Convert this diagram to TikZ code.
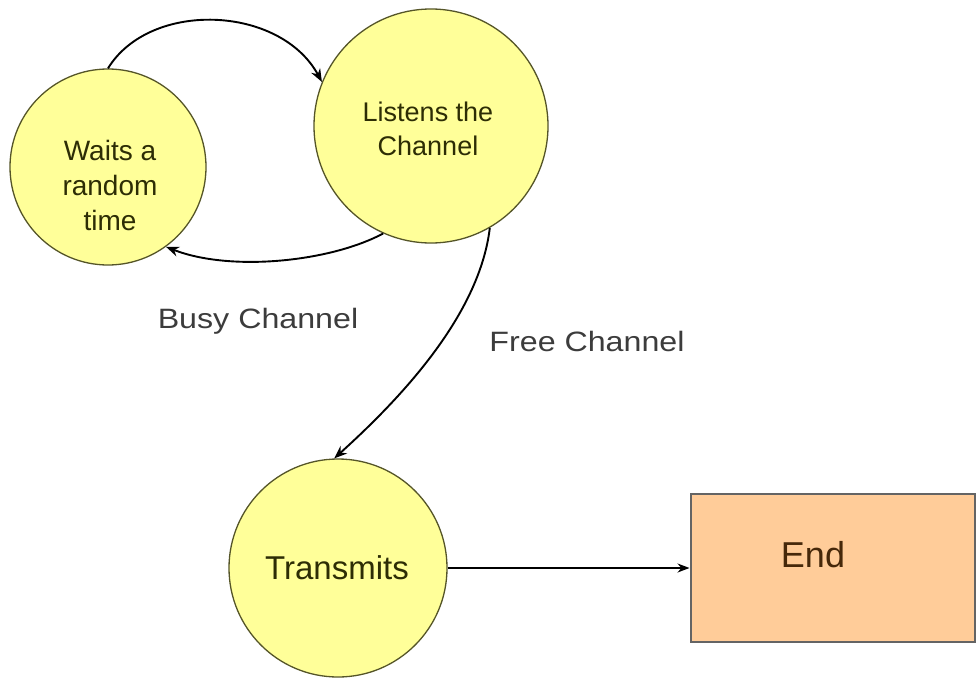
\documentclass[tikz,border=0pt]{standalone}
\usepackage{fontspec}
\setmainfont{Liberation Sans}
\usetikzlibrary{arrows.meta}
\definecolor{stateyellow}{RGB}{255,255,153}
\definecolor{stateedge}{RGB}{85,85,40}
\definecolor{statetextcol}{RGB}{45,45,5}
\definecolor{endfill}{RGB}{255,204,153}
\definecolor{endedge}{RGB}{100,100,100}
\definecolor{endtextcol}{RGB}{70,40,10}
\definecolor{labelgrey}{RGB}{60,60,60}
\tikzset{
  statecircle/.style={circle, draw=stateedge, line width=1.3pt, fill=stateyellow, inner sep=0pt},
  statetext/.style={text=statetextcol, align=center, font=\fontsize{27}{34}\selectfont},
  endbox/.style={rectangle, draw=endedge, line width=2pt, fill=endfill, inner sep=0pt,
    minimum width=284pt, minimum height=148pt},
  edgelabel/.style={text=labelgrey, font=\fontsize{28}{30}\selectfont, xscale=1.15, transform shape},
  flow/.style={line width=1.9pt, -{Stealth[length=13pt, width=10pt]}},
  flowthin/.style={line width=1.4pt, -{Stealth[length=12pt, width=9pt]}}
}
\begin{document}
\begin{tikzpicture}[x=1pt, y=-1pt]
  \useasboundingbox (0,0) rectangle (976,677);

  % states
  \node[statecircle, minimum size=196pt] (waits) at (108,167) {};
  \node[statetext, font=\fontsize{28}{35}\selectfont] (waitstext) at (110,185) {Waits a\\random\\time};

  \node[statecircle, minimum size=234pt] (listens) at (431,126) {};
  \node[statetext] (listenstext) at (428,129) {Listens the\\Channel};

  \node[statecircle, minimum size=218pt] (transmits) at (338,568) {};
  \node[statetext, font=\fontsize{33}{38}\selectfont] (transmitstext) at (337,568) {Transmits};

  \node[endbox] (end) at (832.5,568) {};
  \node[text=endtextcol, font=\fontsize{36}{40}\selectfont] (endtext) at (813,555) {End};

  % transitions
  \draw[flow] (waits.90) .. controls (150,0) and (280,5) .. (listens.158);
  \draw[flow] (listens.246) .. controls (330,262) and (230,272) .. (waits.306);
  \draw[flow] (listens.300) .. controls (480,310) and (410,390) .. (transmits.92);
  \draw[flowthin] (transmits.east) -- (end.west);

  % transition labels
  \node[edgelabel] (busy) at (258,321) {Busy Channel};
  \node[edgelabel] (free) at (587,341) {Free Channel};
\end{tikzpicture}
\end{document}
